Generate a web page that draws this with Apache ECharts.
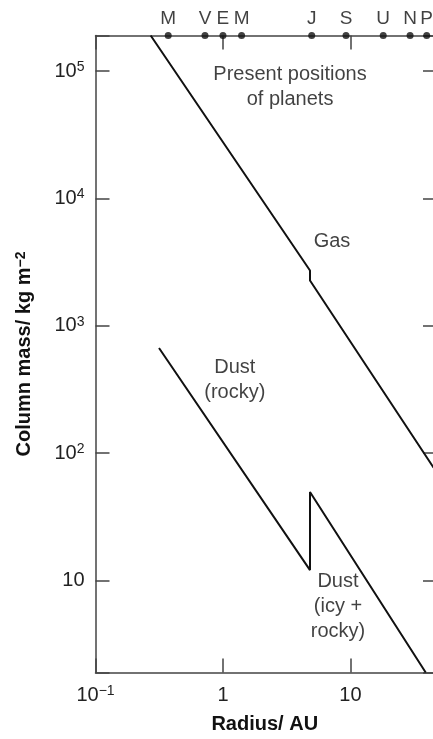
<!DOCTYPE html>
<html><head><meta charset="utf-8">
<script src="https://cdn.jsdelivr.net/npm/echarts@6/dist/echarts.min.js"></script>
<style>html,body{margin:0;padding:0;background:#fff}#c{width:433px;height:739px}</style>
</head><body><div id="c"></div>
<script>
// ---- data ----
const planetNames = ['M', 'V', 'E', 'M', 'J', 'S', 'U', 'N', 'P'];
const planetRadii = [0.372, 0.723, 1.0, 1.40, 4.97, 9.24, 18.1, 29.4, 39.7];
const gasRadius = [0.271, 4.82, 4.82, 45];
const gasMass = [190000, 2720, 2270, 77];
const rockyRadius = [0.315, 4.82];
const rockyMass = [670, 12.1];
const icyRadius = [4.82, 39.0];
const icyMass = [49.6, 1.9];
const annotationTexts = ['Present positions\nof planets', 'Gas', 'Dust\n(rocky)', 'Dust\n(icy +\nrocky)'];
const annotationRadius = [3.36, 7.17, 1.24, 7.99];
const annotationMass = [74930, 4550, 379, 6.27];
const xMin = 0.1, xMax = 45.3, yMin = 1.9, yMax = 190000;

const FONT = "'Liberation Sans', Arial, sans-serif";
const AXIS_COLOR = '#444';
const INK = '#111';

function pairs(xs, ys) { return xs.map((x, i) => [x, ys[i]]); }
function isPow(v) { const l = Math.log10(v); return Math.abs(l - Math.round(l)) < 1e-6; }

const rich = {
  b: { fontSize: 20, fontFamily: FONT, color: '#222', lineHeight: 22 },
  s: { fontSize: 14, fontFamily: FONT, color: '#222', lineHeight: 14, verticalAlign: 'top' }
};

const chart = echarts.init(document.getElementById('c'), null, { renderer: 'canvas' });
chart.setOption({
  animation: false,
  backgroundColor: '#fff',
  grid: { left: 95.5, right: -1, top: 35.5, bottom: 66.5, containLabel: false, outerBoundsMode: 'none' },
  xAxis: [
    {
      type: 'log', logBase: 10, min: xMin, max: xMax, position: 'bottom',
      axisLine: { show: true, lineStyle: { color: AXIS_COLOR, width: 1.5 } },
      axisTick: { show: true, inside: true, length: 14, lineStyle: { color: AXIS_COLOR, width: 1.5 } },
      splitLine: { show: false }, minorTick: { show: false },
      axisLabel: {
        margin: 12, rich: rich, showMinLabel: true,
        formatter: function (v) {
          if (!isPow(v)) return '';
          const e = Math.round(Math.log10(v));
          if (e === 0) return '{b|1}';
          if (e === 1) return '{b|10}';
          return '{b|10}{s|' + (e < 0 ? '\u2212' + (-e) : e) + '}';
        }
      },
      name: 'Radius/ AU', nameLocation: 'middle', nameGap: 42,
      nameTextStyle: { fontSize: 20, fontWeight: 'bold', fontFamily: FONT, color: '#111' }
    },
    {
      type: 'log', logBase: 10, min: xMin, max: xMax, position: 'top',
      axisLine: { show: true, lineStyle: { color: AXIS_COLOR, width: 1.5 } },
      axisTick: { show: true, inside: true, length: 14, lineStyle: { color: AXIS_COLOR, width: 1.5 } },
      axisLabel: { show: false }, splitLine: { show: false }
    }
  ],
  yAxis: [
    {
      type: 'log', logBase: 10, min: yMin, max: yMax, position: 'left',
      axisLine: { show: true, lineStyle: { color: AXIS_COLOR, width: 1.5 } },
      axisTick: { show: true, inside: true, length: 14, lineStyle: { color: AXIS_COLOR, width: 1.5 } },
      splitLine: { show: false },
      axisLabel: {
        margin: 11, rich: rich,
        formatter: function (v) {
          if (!isPow(v)) return '';
          const e = Math.round(Math.log10(v));
          if (e === 1) return '{b|10}';
          return '{b|10}{s|' + e + '}';
        }
      },
      name: 'Column mass/ kg m{s|\u22122}', nameLocation: 'middle', nameGap: 61,
      nameTextStyle: {
        fontSize: 20, fontWeight: 'bold', fontFamily: FONT, color: '#111',
        rich: { s: { fontSize: 14, fontWeight: 'bold', fontFamily: FONT, color: '#111', verticalAlign: 'top', lineHeight: 14 } }
      }
    },
    {
      type: 'log', logBase: 10, min: yMin, max: yMax, position: 'right',
      axisLine: { show: false },
      axisTick: { show: true, inside: true, length: 11, lineStyle: { color: AXIS_COLOR, width: 1.5 } },
      axisLabel: { show: false }, splitLine: { show: false }
    }
  ],
  series: [
    {
      name: 'Gas', type: 'line', data: pairs(gasRadius, gasMass), showSymbol: false,
      lineStyle: { color: INK, width: 2 }, silent: true
    },
    {
      name: 'Dust', type: 'line',
      data: pairs(rockyRadius, rockyMass).concat(pairs(icyRadius, icyMass)), showSymbol: false,
      lineStyle: { color: INK, width: 2 }, silent: true
    },
    {
      name: 'Planets', type: 'scatter', clip: false, symbolSize: 7,
      itemStyle: { color: INK },
      data: planetRadii.map((r, i) => ({ value: [r, yMax], name: planetNames[i] })),
      label: { show: true, position: 'top', distance: 4, formatter: '{b}', fontSize: 19, fontFamily: FONT, color: INK },
      silent: true, z: 5
    },
    {
      name: 'Annotations', type: 'scatter', symbolSize: 1, itemStyle: { color: 'rgba(0,0,0,0)' },
      data: annotationTexts.map((t, i) => ({ value: [annotationRadius[i], annotationMass[i]], name: t })),
      label: { show: true, position: 'inside', formatter: '{b}', fontSize: 20, lineHeight: 25, align: 'center', verticalAlign: 'middle', fontFamily: FONT, color: INK },
      silent: true
    }
  ]
});
</script>
</body></html>
